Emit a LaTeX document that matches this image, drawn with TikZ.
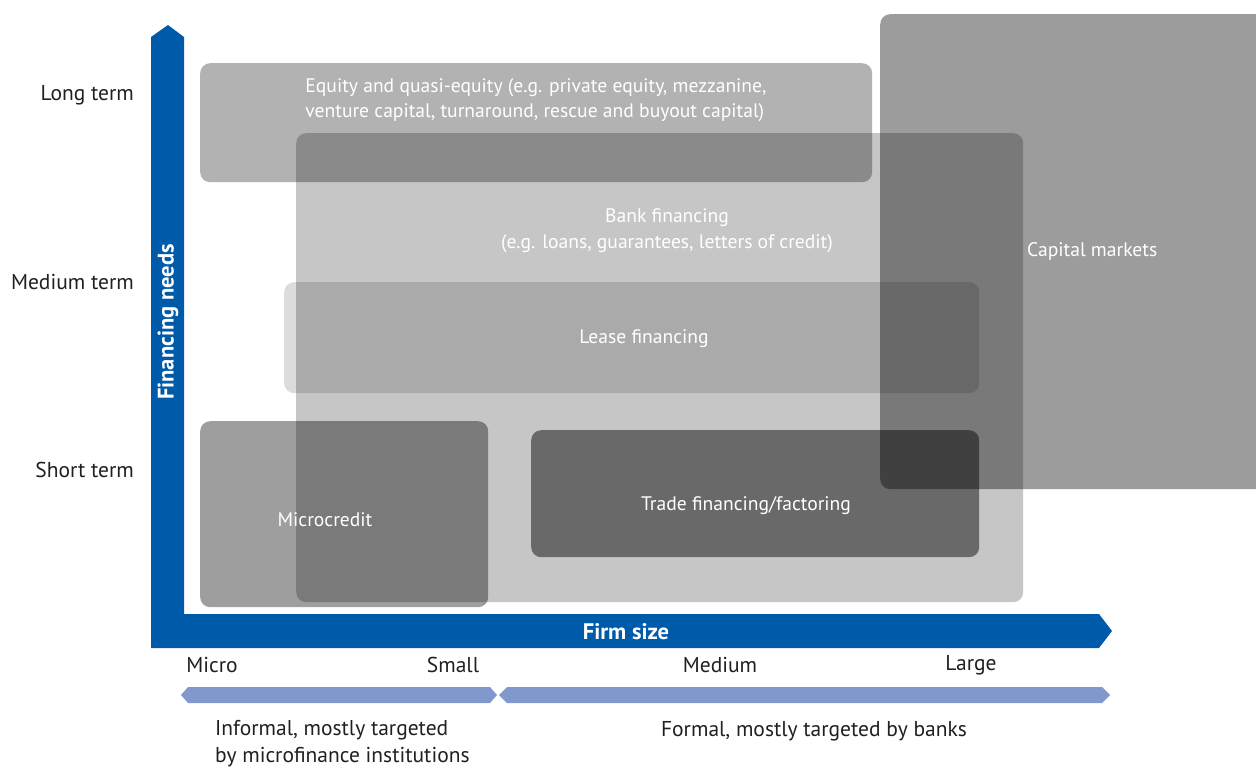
\documentclass[tikz,border=0pt]{standalone}
\usepackage{fontspec}
\setmainfont{PT Sans}
\definecolor{axisblue}{RGB}{0,90,170}
\definecolor{lightblue}{RGB}{128,152,204}
\definecolor{labelgray}{RGB}{35,31,32}
\begin{document}
\begin{tikzpicture}[x=1pt,y=-1pt,
  box/.style={fill=black,draw=none,rounded corners=10pt,anchor=north west,inner sep=0pt},
  boxtext/.style={text=white,font=\fontsize{19.6}{25.5}\selectfont,inner sep=0pt,align=center},
  lbl/.style={text=labelgray,font=\fontsize{21.5}{27}\selectfont,inner sep=0pt},
  axlbl/.style={text=white,font=\bfseries\fontsize{22.5}{26}\selectfont,inner sep=0pt},
  band/.style={fill=lightblue,draw=none}]
\clip (0,0) rectangle (1256,766);
\fill[white] (0,0) rectangle (1256,766);
% boxes
\node[box,fill opacity=0.30,minimum width=672,minimum height=119] (eq) at (200,63) {};
\node[box,fill opacity=0.224,minimum width=727,minimum height=469] (bank) at (296,133) {};
\node[box,fill opacity=0.137,minimum width=695,minimum height=111] (lease) at (284,282) {};
\node[box,fill opacity=0.388,minimum width=386,minimum height=475] (cap) at (880,14) {};
\node[box,fill opacity=0.38,minimum width=288,minimum height=186] (micro) at (200,421) {};
\node[box,fill opacity=0.467,minimum width=448,minimum height=127] (trade) at (531,430) {};
% box texts
\node[boxtext,align=left] (eqt) at (536,100) {Equity and quasi-equity (e.g. private equity, mezzanine,\\venture capital, turnaround, rescue and buyout capital)};
\node[boxtext] (bankt) at (667,230.5) {Bank financing\\(e.g. loans, guarantees, letters of credit)};
\node[boxtext] (leaset) at (644,338.5) {Lease financing};
\node[boxtext,anchor=west] (capt) at (1027,251) {Capital markets};
\node[boxtext] (microt) at (325,519.5) {Microcredit};
\node[boxtext] (tradet) at (746,505.5) {Trade financing/factoring};
% axes
\fill[axisblue] (151,648) -- (151,37) -- (168,25) -- (184,37) -- (184,614) -- (1099,614) -- (1112,631) -- (1099,648) -- cycle;
\node[axlbl,rotate=90] (yax) at (168,322) {Financing needs};
\node[axlbl] (xax) at (626,632) {Firm size};
% left labels
\node[lbl,anchor=east] (lt) at (134,95) {Long term};
\node[lbl,anchor=east] (mt) at (134,282) {Medium term};
\node[lbl,anchor=east] (st) at (134,470) {Short term};
% size labels
\node[lbl] (sm) at (212,665) {Micro};
\node[lbl] (ss) at (453,665) {Small};
\node[lbl] (smd) at (720,665) {Medium};
\node[lbl] (sl) at (971,665) {Large};
% bands
\fill[band] (181,695) -- (188,687) -- (490,687) -- (497,695) -- (490,703) -- (188,703) -- cycle;
\fill[band] (499,695) -- (507,687) -- (1102,687) -- (1110,695) -- (1102,703) -- (507,703) -- cycle;
\node[lbl,anchor=west,align=left] (inf) at (215,744) {Informal, mostly targeted\\by microfinance institutions};
\node[lbl] (form) at (814,731) {Formal, mostly targeted by banks};
\end{tikzpicture}
\end{document}
